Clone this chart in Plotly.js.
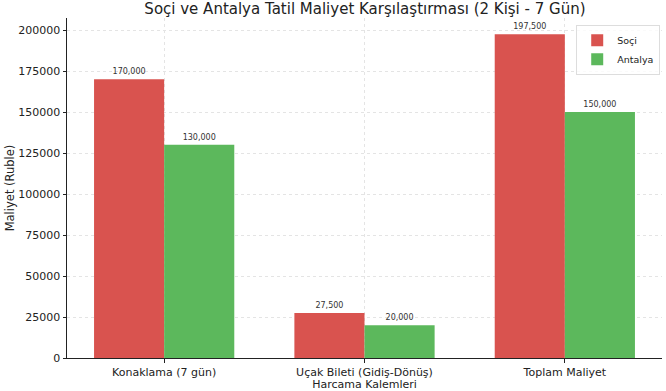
<!DOCTYPE html>
<html>
<head>
<meta charset="utf-8">
<script src="https://cdn.plot.ly/plotly-3.0.1.min.js"></script>
<style>html,body{margin:0;padding:0;background:#fff;}#chart{width:666px;height:391px;}</style>
</head>
<body>
<div id="chart"></div>
<script>
const categories = ["Konaklama (7 gün)", "Uçak Bileti (Gidiş-Dönüş)", "Toplam Maliyet"];
const sociValues = [170000, 27500, 197500];
const antalyaValues = [130000, 20000, 150000];
const seriesNames = ["Soçi", "Antalya"];

const font = "DejaVu Sans, sans-serif";
const common = {
  type: "bar",
  x: categories,
  texttemplate: "%{y:,}",
  textposition: "outside",
  textfont: {family: font, size: 8, color: "#333"},
  cliponaxis: false,
  hoverinfo: "none"
};
const traces = [
  Object.assign({}, common, {name: seriesNames[0], y: sociValues, marker: {color: "#d9534f"}}),
  Object.assign({}, common, {name: seriesNames[1], y: antalyaValues, marker: {color: "#5cb85c"}})
];
const layout = {
  width: 666, height: 391,
  margin: {l: 67, r: 4, t: 18, b: 33},
  paper_bgcolor: "#fff", plot_bgcolor: "#fff",
  font: {family: font, color: "#222", size: 11},
  barmode: "group", bargap: 0.3, bargroupgap: 0,
  title: {text: "Soçi ve Antalya Tatil Maliyet Karşılaştırması (2 Kişi - 7 Gün)", font: {family: font, size: 15, color: "#222"}, x: 0.548, xanchor: "center", y: 0.99, yanchor: "top"},
  xaxis: {
    range: [-0.485, 2.485],
    showline: true, linecolor: "#222", linewidth: 1,
    ticks: "outside", ticklen: 3.5, tickcolor: "#222",
    showgrid: true, gridcolor: "#e4e4e4", griddash: "dot", gridwidth: 1,
    tickfont: {size: 11},
    title: {text: "Harcama Kalemleri", font: {size: 11}, standoff: 2},
    zeroline: false
  },
  yaxis: {
    range: [0, 207375],
    dtick: 25000, tickformat: "d",
    showline: true, linecolor: "#222", linewidth: 1,
    ticks: "outside", ticklen: 3.5, tickcolor: "#222",
    showgrid: true, gridcolor: "#e4e4e4", griddash: "dot", gridwidth: 1,
    tickfont: {size: 11},
    title: {text: "Maliyet (Ruble)", font: {size: 11.5}, standoff: 1},
    zeroline: false
  },
  legend: {
    x: 0.997, xanchor: "right", y: 0.98, yanchor: "top",
    bordercolor: "#ddd", borderwidth: 1, bgcolor: "rgba(255,255,255,0.8)",
    font: {size: 9.5}, tracegroupgap: 0, itemwidth: 30
  },
  showlegend: true
};
Plotly.newPlot("chart", traces, layout, {staticPlot: true, displayModeBar: false});
</script>
</body>
</html>
